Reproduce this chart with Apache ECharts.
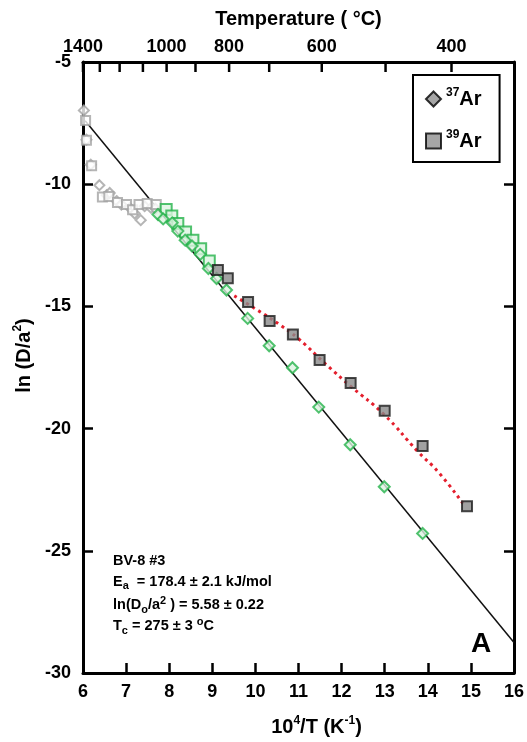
<!DOCTYPE html>
<html>
<head>
<meta charset="utf-8">
<script src="https://cdn.jsdelivr.net/npm/echarts@6/dist/echarts.min.js"></script>
<style>
  html, body { margin: 0; padding: 0; background: #fff; }
  #chart { width: 527px; height: 742px; }
</style>
</head>
<body>
<div id="chart"></div>
<script>
const FONT = "'Liberation Sans', Arial, Helvetica, sans-serif";

// Arrhenius fit parameters
const Ea = 178.4;          // kJ/mol
const lnD0a2 = 5.58;       // ln(Do/a^2)
const R = 8.314e-3;        // kJ/(mol K)
const fitRange = [6.05, 16];

// 37Ar steps used in the fit  [10^4/T, ln(D/a^2)]
const ar37Fit = [
  [7.74, -11.24], [7.86, -11.42], [8.07, -11.58], [8.20, -11.92], [8.37, -12.29],
  [8.53, -12.53], [8.72, -12.87], [8.91, -13.45], [9.10, -13.86], [9.33, -14.33],
  [9.82, -15.49], [10.32, -16.61], [10.86, -17.51], [11.47, -19.12], [12.20, -20.66],
  [12.99, -22.38], [13.88, -24.29]
];
// 37Ar high-temperature steps left out of the fit
const ar37Excl = [
  [6.02, -6.98], [6.08, -8.18], [6.18, -9.20], [6.38, -10.04], [6.55, -10.45],
  [6.62, -10.36], [6.78, -10.69], [6.89, -10.83], [7.09, -10.97], [7.20, -11.20],
  [7.34, -11.47], [7.43, -10.90], [7.58, -10.97], [7.68, -11.00]
];
// 39Ar steps
const ar39 = [
  [9.13, -13.51], [9.36, -13.85], [9.83, -14.82], [10.33, -15.60], [10.87, -16.15],
  [11.49, -17.19], [12.21, -18.13], [13.00, -19.27], [13.88, -20.71], [14.91, -23.18]
];
// 39Ar steps that follow the 37Ar trend
const ar39Match = [
  [7.93, -11.04], [8.06, -11.30], [8.20, -11.61], [8.38, -11.96], [8.55, -12.29],
  [8.73, -12.64], [8.93, -13.14]
];
// 39Ar high-temperature steps
const ar39Excl = [
  [6.06, -7.39], [6.08, -8.20], [6.20, -9.24], [6.45, -10.52], [6.60, -10.50],
  [6.80, -10.75], [7.01, -10.83], [7.15, -11.05], [7.30, -10.83], [7.49, -10.79],
  [7.70, -10.83]
];
// trend through the low-temperature 39Ar steps
const ar39Trend = [
  [9.51, -14.57], [10.01, -15.11], [10.55, -15.73], [11.01, -16.34], [11.63, -17.36],
  [12.24, -18.31], [12.97, -19.40], [13.78, -20.96], [14.24, -21.77], [14.82, -23.07]
];

// temperature scale along the top edge
const topTemps   = [1400, 1300, 1200, 1100, 1000, 900, 800, 700, 600, 500, 400];
const topTickPos = [6.0, 6.39, 6.85, 7.39, 7.94, 8.61, 9.39, 10.32, 11.54, 13.02, 14.55];
const topLabelTemps = [1400, 1000, 800, 600, 400];

const fitLine = fitRange.map(x => [x, lnD0a2 - Ea / (R * 1e4) * x]);

const GREEN = '#25b34b';
const GREEN_FILL = '#dcf4e1';
const GREY = '#a3a3a3';

const chart = echarts.init(document.getElementById('chart'), null, { renderer: 'canvas' });

const axisLine = { show: true, lineStyle: { color: '#000', width: 3 } };
const tick = { show: true, inside: true, length: 10, lineStyle: { color: '#000', width: 2.5 } };
const bigLabel = { color: '#000', fontFamily: FONT, fontWeight: 'bold', fontSize: 18 };

const supRich = {
  b: { fontFamily: FONT, fontWeight: 'bold', fontSize: 20, color: '#000', lineHeight: 24 },
  sup: { fontFamily: FONT, fontWeight: 'bold', fontSize: 12, color: '#000', lineHeight: 12, verticalAlign: 'top' }
};

const annRich = {
  t: { fontFamily: FONT, fontWeight: 'bold', fontSize: 14.5, color: '#111', lineHeight: 20 },
  sub: { fontFamily: FONT, fontWeight: 'bold', fontSize: 11, color: '#111', lineHeight: 10, verticalAlign: 'bottom' },
  sup: { fontFamily: FONT, fontWeight: 'bold', fontSize: 11, color: '#111', lineHeight: 12, verticalAlign: 'top' }
};

const annLines = [
  '{t|BV-8 #3}',
  '{t|E}{sub|a}{t|  = 178.4 ± 2.1 kJ/mol}',
  '{t|ln(D}{sub|o}{t|/a}{sup|2}{t| ) = 5.58 ± 0.22}',
  '{t|T}{sub|c}{t| = 275 ± 3 }{sup|o}{t|C}'
];

const staticGraphics = [
  ...annLines.map((txt, i) => ({
    type: 'text', left: 113, top: 553 + i * 21, z: 10,
    style: { text: txt, rich: annRich }
  })),
  {
    type: 'text', left: 471, top: 630, z: 10,
    style: { text: 'A', fontFamily: FONT, fontWeight: 'bold', fontSize: 28, fill: '#000' }
  }
];

chart.setOption({
  animation: false,
  backgroundColor: '#fff',
  grid: { left: 83, right: 11, top: 62, bottom: 67, containLabel: false },
  legend: {
    show: true,
    orient: 'vertical',
    left: 413,
    top: 75,
    padding: [12, 18, 11, 12],
    itemGap: 20,
    itemWidth: 15,
    itemHeight: 15,
    borderColor: '#000',
    borderWidth: 2,
    backgroundColor: '#fff',
    data: [
      { name: '37Ar', icon: 'diamond', itemStyle: { color: '#909090', borderColor: '#000', borderWidth: 2 } },
      { name: '39Ar', icon: 'rect', itemStyle: { color: '#909090', borderColor: '#000', borderWidth: 2 } }
    ],
    formatter: name => '{sup|' + name.slice(0, 2) + '}{b|' + name.slice(2) + '}',
    textStyle: { rich: supRich }
  },
  xAxis: [
    {
      type: 'value', position: 'bottom', min: 6, max: 16, interval: 1,
      axisLine, axisTick: tick, splitLine: { show: false },
      axisLabel: { ...bigLabel, margin: 10 },
      name: '{b|10}{sup|4}{b|/T (K}{sup|-1}{b|)}',
      nameLocation: 'middle', nameGap: 42,
      nameTextStyle: { padding: [0, 0, 0, 36], rich: supRich }
    },
    {
      type: 'value', position: 'top', min: 6, max: 16,
      axisLine, splitLine: { show: false },
      axisTick: { show: false },
      axisLabel: {
        ...bigLabel, margin: 6,
        customValues: topLabelTemps.map(t => topTickPos[topTemps.indexOf(t)]),
        formatter: v => {
          const i = topTickPos.findIndex(p => Math.abs(p - v) < 1e-6);
          return i >= 0 ? String(topTemps[i]) : '';
        }
      },
      name: 'Temperature ( °C)',
      nameLocation: 'middle', nameGap: 33,
      nameTextStyle: { fontFamily: FONT, fontWeight: 'bold', fontSize: 20, color: '#000' }
    }
  ],
  yAxis: [
    {
      type: 'value', position: 'left', min: -30, max: -5, interval: 5,
      axisLine, axisTick: tick, splitLine: { show: false },
      axisLabel: { ...bigLabel, margin: 12 },
      name: '{b|ln (D/a}{sup|2}{b|)}',
      nameLocation: 'middle', nameGap: 39, nameRotate: 90,
      nameTextStyle: { padding: [0, 0, 0, 24], rich: supRich }
    },
    {
      type: 'value', position: 'right', min: -30, max: -5, interval: 5,
      axisLine, axisTick: tick, splitLine: { show: false },
      axisLabel: { show: false }
    }
  ],
  graphic: staticGraphics,
  series: [
    {
      name: 'fit', type: 'line', data: fitLine, xAxisIndex: 0, yAxisIndex: 0,
      symbol: 'none', lineStyle: { color: '#111', width: 1.5 }, z: 2, silent: true
    },
    {
      name: '39Ar trend', type: 'line', data: ar39Trend, smooth: true,
      symbol: 'none', lineStyle: { color: '#e41f2d', width: 3, type: [3, 4], cap: 'butt' }, z: 2
    },
    {
      name: '37Ar excluded', type: 'scatter', data: ar37Excl, symbol: 'diamond', symbolSize: 10,
      itemStyle: { color: '#fff', borderColor: GREY, borderWidth: 2 }, z: 3
    },
    {
      name: '39Ar excluded', type: 'scatter', data: ar39Excl, symbol: 'rect', symbolSize: 9,
      itemStyle: { color: '#fff', borderColor: GREY, borderWidth: 2 }, z: 3
    },
    {
      name: '39Ar matched', type: 'scatter', data: ar39Match, symbol: 'rect', symbolSize: 11,
      itemStyle: { color: GREEN_FILL, borderColor: GREEN, borderWidth: 2 }, z: 4
    },
    {
      name: '37Ar', type: 'scatter', data: ar37Fit, symbol: 'diamond', symbolSize: 11,
      itemStyle: { color: GREEN_FILL, borderColor: GREEN, borderWidth: 2 }, z: 5
    },
    {
      name: '39Ar', type: 'scatter', data: ar39, symbol: 'rect', symbolSize: 10,
      itemStyle: { color: '#8a8a8a', borderColor: '#1c1c1c', borderWidth: 2 }, z: 6
    }
  ]
});

// temperature ticks hanging from the top edge, placed through the top axis scale
const yTop = chart.convertToPixel({ yAxisIndex: 0 }, -5);
const tickGraphics = topTickPos.map(p => {
  const x = chart.convertToPixel({ xAxisIndex: 1 }, p);
  return {
    type: 'line', z: 20, silent: true,
    shape: { x1: x, y1: yTop, x2: x, y2: yTop + 10 },
    style: { stroke: '#000', lineWidth: 2.5 }
  };
});
chart.setOption({ graphic: [...staticGraphics, ...tickGraphics] });
</script>
</body>
</html>
